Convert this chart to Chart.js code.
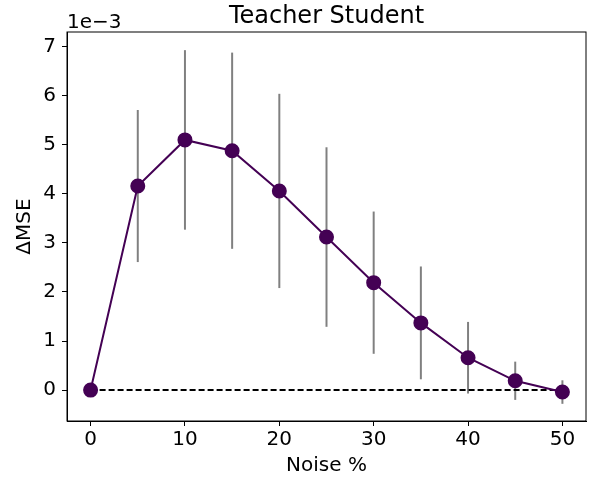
<!DOCTYPE html>
<html>
<head>
<meta charset="utf-8">
<script src="https://cdn.jsdelivr.net/npm/chart.js@4"></script>
<style>
  html, body { margin: 0; padding: 0; background: #fff; }
  #wrap { width: 589px; height: 481px; }
</style>
</head>
<body>
<div id="wrap"><canvas id="grafico" width="589" height="481"></canvas></div>
<script>
// dados do gráfico (valores em unidades de 1e-3)
var noise = [0, 5, 10, 15, 20, 25, 30, 35, 40, 45, 50];
var deltaMse = [0, 4.16, 5.10, 4.88, 4.06, 3.12, 2.19, 1.37, 0.66, 0.19, -0.04];
var erro = [0, 1.55, 1.83, 2.00, 1.98, 1.83, 1.45, 1.15, 0.73, 0.39, 0.24];
var xTicks = [0, 10, 20, 30, 40, 50];
var yTicks = [0, 1, 2, 3, 4, 5, 6, 7];

var pontos = noise.map(function (n, i) { return { x: n, y: deltaMse[i] }; });
var linhaZero = [{ x: noise[0], y: 0 }, { x: noise[noise.length - 1], y: 0 }];

var fonte = 'DejaVu Sans';
Chart.defaults.font.family = fonte;
Chart.defaults.color = '#000';

// barras de erro, título, "1e-3" e moldura
var extras = {
    id: 'extras',
    beforeDatasetsDraw: function (chart) {
        var c = chart.ctx, xs = chart.scales.x, ys = chart.scales.y;
        c.save();
        c.strokeStyle = '#808080';
        c.lineWidth = 2;
        noise.forEach(function (n, i) {
            if (!erro[i]) return;
            var px = xs.getPixelForValue(n);
            c.beginPath();
            c.moveTo(px, ys.getPixelForValue(deltaMse[i] + erro[i]));
            c.lineTo(px, ys.getPixelForValue(deltaMse[i] - erro[i]));
            c.stroke();
        });
        c.restore();
    },
    afterDraw: function (chart) {
        var c = chart.ctx, a = chart.chartArea;
        c.save();
        c.strokeStyle = '#000';
        c.lineWidth = 1;
        c.strokeRect(a.left, a.top, a.right - a.left, a.bottom - a.top);
        c.fillStyle = '#000';
        c.textBaseline = 'alphabetic';
        c.font = '24px ' + fonte;
        c.textAlign = 'center';
        c.fillText('Teacher Student', (a.left + a.right) / 2, 23);
        c.font = '20px ' + fonte;
        c.textAlign = 'left';
        c.fillText('1e\u22123', a.left, 28);
        c.restore();
    }
};

var ctx = document.querySelector('#grafico').getContext('2d');
var grafico = new Chart(ctx, {
    type: 'scatter',
    data: {
        datasets: [{
            data: pontos,
            showLine: true,
            borderColor: '#440154',
            backgroundColor: '#440154',
            borderWidth: 2,
            pointRadius: 6.5,
            pointHoverRadius: 6.5,
            order: 1
        }, {
            data: linhaZero,
            showLine: true,
            borderColor: '#000',
            borderWidth: 2,
            borderDash: [6, 3],
            pointRadius: 0,
            order: 2
        }]
    },
    options: {
        responsive: false,
        animation: false,
        layout: { autoPadding: false, padding: { top: 32, right: 3, left: 0, bottom: 0 } },
        plugins: { legend: { display: false }, tooltip: { enabled: false }, title: { display: false } },
        scales: {
            x: {
                type: 'linear',
                min: -2.5,
                max: 52.5,
                afterBuildTicks: function (s) { s.ticks = xTicks.map(function (v) { return { value: v }; }); },
                afterFit: function (s) { s.height = 60; s.paddingLeft = 0; s.paddingRight = 0; },
                grid: { drawOnChartArea: false, drawTicks: true, tickLength: 5, color: '#000' },
                border: { display: true, color: '#000', width: 1 },
                ticks: { font: { size: 20 }, padding: 2, maxRotation: 0, color: '#000' },
                title: { display: true, text: 'Noise %', font: { size: 20 }, padding: { bottom: 3 }, color: '#000' }
            },
            y: {
                type: 'linear',
                min: -0.63,
                max: 7.3,
                afterBuildTicks: function (s) { s.ticks = yTicks.map(function (v) { return { value: v }; }); },
                afterFit: function (s) { s.width = 67; s.paddingTop = 0; s.paddingBottom = 0; },
                grid: { drawOnChartArea: false, drawTicks: true, tickLength: 5, color: '#000' },
                border: { display: true, color: '#000', width: 1 },
                ticks: { font: { size: 20 }, padding: 6, color: '#000' },
                title: { display: true, text: '\u0394MSE', font: { size: 20 }, padding: { top: 13 }, color: '#000' }
            }
        }
    },
    plugins: [extras]
});
</script>
</body>
</html>
